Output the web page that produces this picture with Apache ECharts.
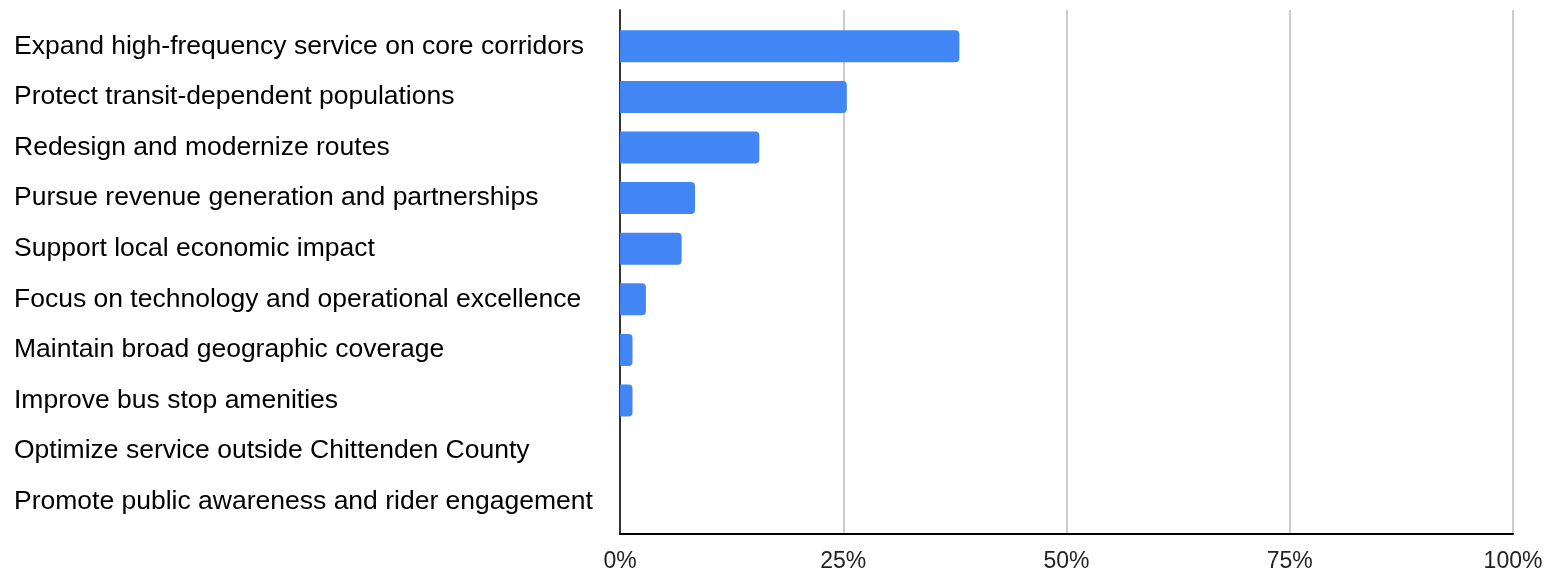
<!DOCTYPE html>
<html>
<head>
<meta charset="utf-8">
<script src="https://cdn.jsdelivr.net/npm/echarts@6/dist/echarts.min.js"></script>
<style>
  html, body { margin: 0; padding: 0; background: #ffffff; }
  #chart { width: 1549px; height: 574px; }
</style>
</head>
<body>
<div id="chart"></div>
<script>
// Priorities, listed top to bottom
const categories = [
  'Expand high-frequency service on core corridors',
  'Protect transit-dependent populations',
  'Redesign and modernize routes',
  'Pursue revenue generation and partnerships',
  'Support local economic impact',
  'Focus on technology and operational excellence',
  'Maintain broad geographic coverage',
  'Improve bus stop amenities',
  'Optimize service outside Chittenden County',
  'Promote public awareness and rider engagement'
];
// Share of responses, in percent
const shares = [38.0, 25.4, 15.6, 8.4, 6.9, 2.9, 1.4, 1.4, 0, 0];
// Value-axis ticks
const tickValues = [0, 25, 50, 75, 100];

const FONT = '"Liberation Sans", Arial, Helvetica, sans-serif';
const chart = echarts.init(document.getElementById('chart'), null, { renderer: 'canvas' });

chart.setOption({
  animation: false,
  backgroundColor: '#ffffff',
  grid: [
    // frame: gridlines and axis lines
    { left: 620, right: 36, top: 10, bottom: 40, containLabel: false },
    // bars and category labels
    { left: 620, right: 36, top: 21, bottom: 47, containLabel: false }
  ],
  xAxis: [
    {
      gridIndex: 0, type: 'value', min: tickValues[0], max: tickValues[tickValues.length - 1],
      interval: tickValues[1] - tickValues[0],
      axisLine: { show: true, lineStyle: { color: '#000000', width: 2 } },
      axisTick: { show: false },
      splitLine: { show: true, lineStyle: { color: '#cccccc', width: 2 } },
      axisLabel: {
        formatter: v => v + '%', color: '#222222', fontSize: 23, fontFamily: FONT, margin: 16
      }
    },
    {
      gridIndex: 1, type: 'value', min: tickValues[0], max: tickValues[tickValues.length - 1],
      show: false
    }
  ],
  yAxis: [
    {
      gridIndex: 0, type: 'value', min: 0, max: 1,
      axisLine: { show: true, lineStyle: { color: '#333333', width: 2 } },
      axisTick: { show: false }, axisLabel: { show: false }, splitLine: { show: false }
    },
    {
      gridIndex: 1, type: 'category', data: categories, inverse: true,
      axisLine: { show: false }, axisTick: { show: false }, splitLine: { show: false },
      axisLabel: {
        align: 'left', margin: 606, color: '#000000', fontSize: 26.5, fontFamily: FONT
      }
    }
  ],
  series: [
    {
      type: 'bar', xAxisIndex: 1, yAxisIndex: 1, data: shares,
      barWidth: 32,
      itemStyle: { color: '#4285f4', borderRadius: [0, 4, 4, 0] },
      z: 3
    }
  ]
});
</script>
</body>
</html>
